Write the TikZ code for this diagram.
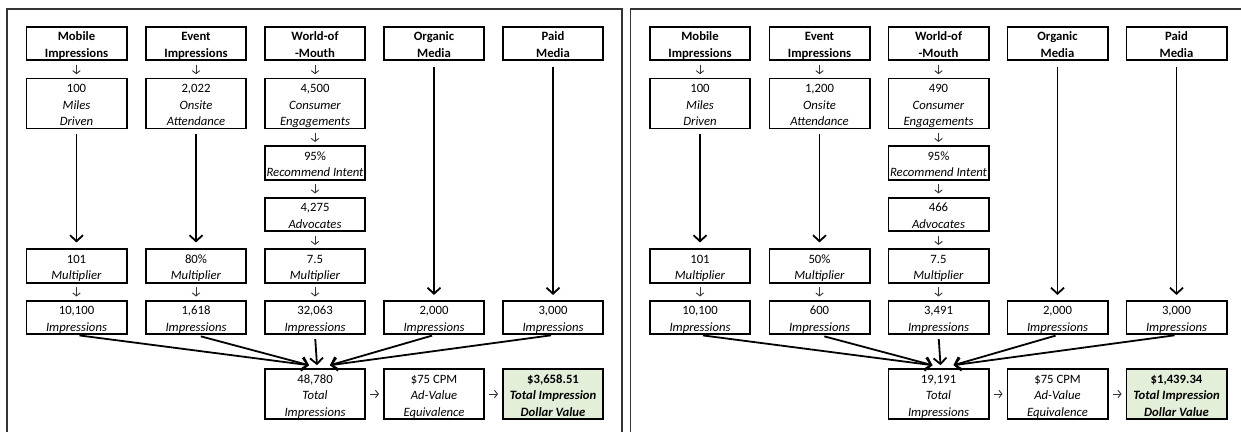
\documentclass[tikz,border=0pt]{standalone}
\usepackage{fontspec}
\setmainfont{Carlito}
\usetikzlibrary{arrows.meta,calc}
\definecolor{dollargreen}{HTML}{E4EFDA}
\definecolor{framegray}{HTML}{333333}
\newcommand{\firstl}{\rule{0pt}{14pt}}
\newcommand{\lastl}{\rule[-3pt]{0pt}{3pt}}
\tikzset{
  txt/.style={font=\fontsize{12.7}{16.5}\selectfont},
  btxt/.style={font=\fontsize{12.7}{16.5}\selectfont\bfseries},
  box/.style={draw=black, line width=1.6pt, minimum width=100.4pt, inner sep=0pt, align=center, txt},
  hbox/.style={box, minimum height=33.4pt, btxt},
  sbox/.style={box, minimum height=33.4pt},
  tbox/.style={box, minimum height=49.4pt},
  frame/.style={draw=framegray, line width=1.8pt},
  sarr/.style={draw=black!80, line width=0.9pt, -{Straight Barb[length=3pt,width=7.5pt]}, shorten <=3.5pt, shorten >=3.5pt},
  barr/.style={draw=black, line width=1.8pt, -{Straight Barb[length=6pt,width=13pt]}},
}
\newcommand{\drawpanel}{%
  \draw[frame] (7,445) -- (7,9) -- (622,9) -- (622,445);
  \node[hbox] (h1) at (76.5,43.5) {\firstl Mobile\\Impressions\lastl};
  \node[hbox] (h2) at (196,43.5) {\firstl Event\\Impressions\lastl};
  \node[hbox] (h3) at (315,43.5) {\firstl World-of\\-Mouth\lastl};
  \node[hbox] (h4) at (434,43.5) {\firstl Organic\\Media\lastl};
  \node[hbox] (h5) at (553,43.5) {\firstl Paid\\Media\lastl};
  \node[tbox] (a1) at (76.5,103.5) {\firstl\vMiles\\\textit{Miles}\\\textit{Driven}\lastl};
  \node[tbox] (a2) at (196,103.5) {\firstl\vOnsite\\\textit{Onsite}\\\textit{Attendance}\lastl};
  \node[tbox] (a3) at (315,103.5) {\firstl\vEng\\\textit{Consumer}\\\textit{Engagements}\lastl};
  \node[sbox] (b3) at (315,163) {\firstl 95\%\\\textit{Recommend Intent}\lastl};
  \node[sbox] (c3) at (315,214.5) {\firstl\vAdv\\\textit{Advocates}\lastl};
  \node[sbox] (m1) at (76.5,266) {\firstl 101\\\textit{Multiplier}\lastl};
  \node[sbox] (m2) at (196,266) {\firstl\vEvMult\\\textit{Multiplier}\lastl};
  \node[sbox] (m3) at (315,266) {\firstl 7.5\\\textit{Multiplier}\lastl};
  \node[sbox] (i1) at (76.5,317.5) {\firstl 10,100\\\textit{Impressions}\lastl};
  \node[sbox] (i2) at (196,317.5) {\firstl\vEvImp\\\textit{Impressions}\lastl};
  \node[sbox] (i3) at (315,317.5) {\firstl\vWomImp\\\textit{Impressions}\lastl};
  \node[sbox] (i4) at (434,317.5) {\firstl 2,000\\\textit{Impressions}\lastl};
  \node[sbox] (i5) at (553,317.5) {\firstl 3,000\\\textit{Impressions}\lastl};
  \node[tbox] (t) at (315,394) {\firstl\vTotal\\\textit{Total}\\\textit{Impressions}\lastl};
  \node[tbox] (av) at (434,394) {\firstl\$75 CPM\\\textit{Ad-Value}\\\textit{Equivalence}\lastl};
  \node[tbox, fill=dollargreen, btxt] (dv) at (553,394) {\firstl\vDollar\\\textit{Total Impression}\\\textit{Dollar Value}\lastl};
  % small arrows
  \draw[sarr] (h1) -- (a1);
  \draw[sarr] (h2) -- (a2);
  \draw[sarr] (h3) -- (a3);
  \draw[sarr] (a3) -- (b3);
  \draw[sarr] (b3) -- (c3);
  \draw[sarr] (c3) -- (m3);
  \draw[sarr] (m1) -- (i1);
  \draw[sarr] (m2) -- (i2);
  \draw[sarr] (m3) -- (i3);
  \draw[sarr, shorten <=4pt, shorten >=4pt] (t) -- (av);
  \draw[sarr, shorten <=4pt, shorten >=4pt] (av) -- (dv);
  % long arrows
  \draw[barr, shorten <=5pt, shorten >=6pt] (a1) -- (m1);
  \draw[barr, shorten <=5pt, shorten >=6pt] (a2) -- (m2);
  \draw[barr, shorten <=6pt, shorten >=5pt] (h4) -- (i4);
  \draw[barr, shorten <=6pt, shorten >=5pt] (h5) -- (i5);
  % converging arrows
  \coordinate (tl) at ($(t.north)+(-6,-3)$);
  \coordinate (tm) at ($(t.north)+(2,-3)$);
  \coordinate (tr) at ($(t.north)+(15,-3)$);
  \draw[barr, shorten <=3pt] (i1.south) -- (tl);
  \draw[barr, shorten <=5pt] (i2.south) -- (tl);
  \draw[barr, shorten <=4pt] (i3.south) -- (tm);
  \draw[barr, shorten <=2pt] (i4.south) -- (tr);
  \draw[barr, shorten <=2pt] (i5.south) -- (tr);
}
\begin{document}
\begin{tikzpicture}[x=1pt, y=-1pt]
  \clip (0,0) rectangle (1241,431);
  \fill[white] (0,0) rectangle (1241,431);
  \begin{scope}[name prefix=L-]
    \def\vMiles{100}\def\vOnsite{2,022}\def\vEng{4,500}\def\vAdv{4,275}
    \def\vEvMult{80\%}\def\vEvImp{1,618}\def\vWomImp{32,063}
    \def\vTotal{48,780}\def\vDollar{\$3,658.51}
    \drawpanel
  \end{scope}
  \begin{scope}[name prefix=R-, xshift=623.5pt]
    \def\vMiles{100}\def\vOnsite{1,200}\def\vEng{490}\def\vAdv{466}
    \def\vEvMult{50\%}\def\vEvImp{600}\def\vWomImp{3,491}
    \def\vTotal{19,191}\def\vDollar{\$1,439.34}
    \drawpanel
  \end{scope}
\end{tikzpicture}
\end{document}
